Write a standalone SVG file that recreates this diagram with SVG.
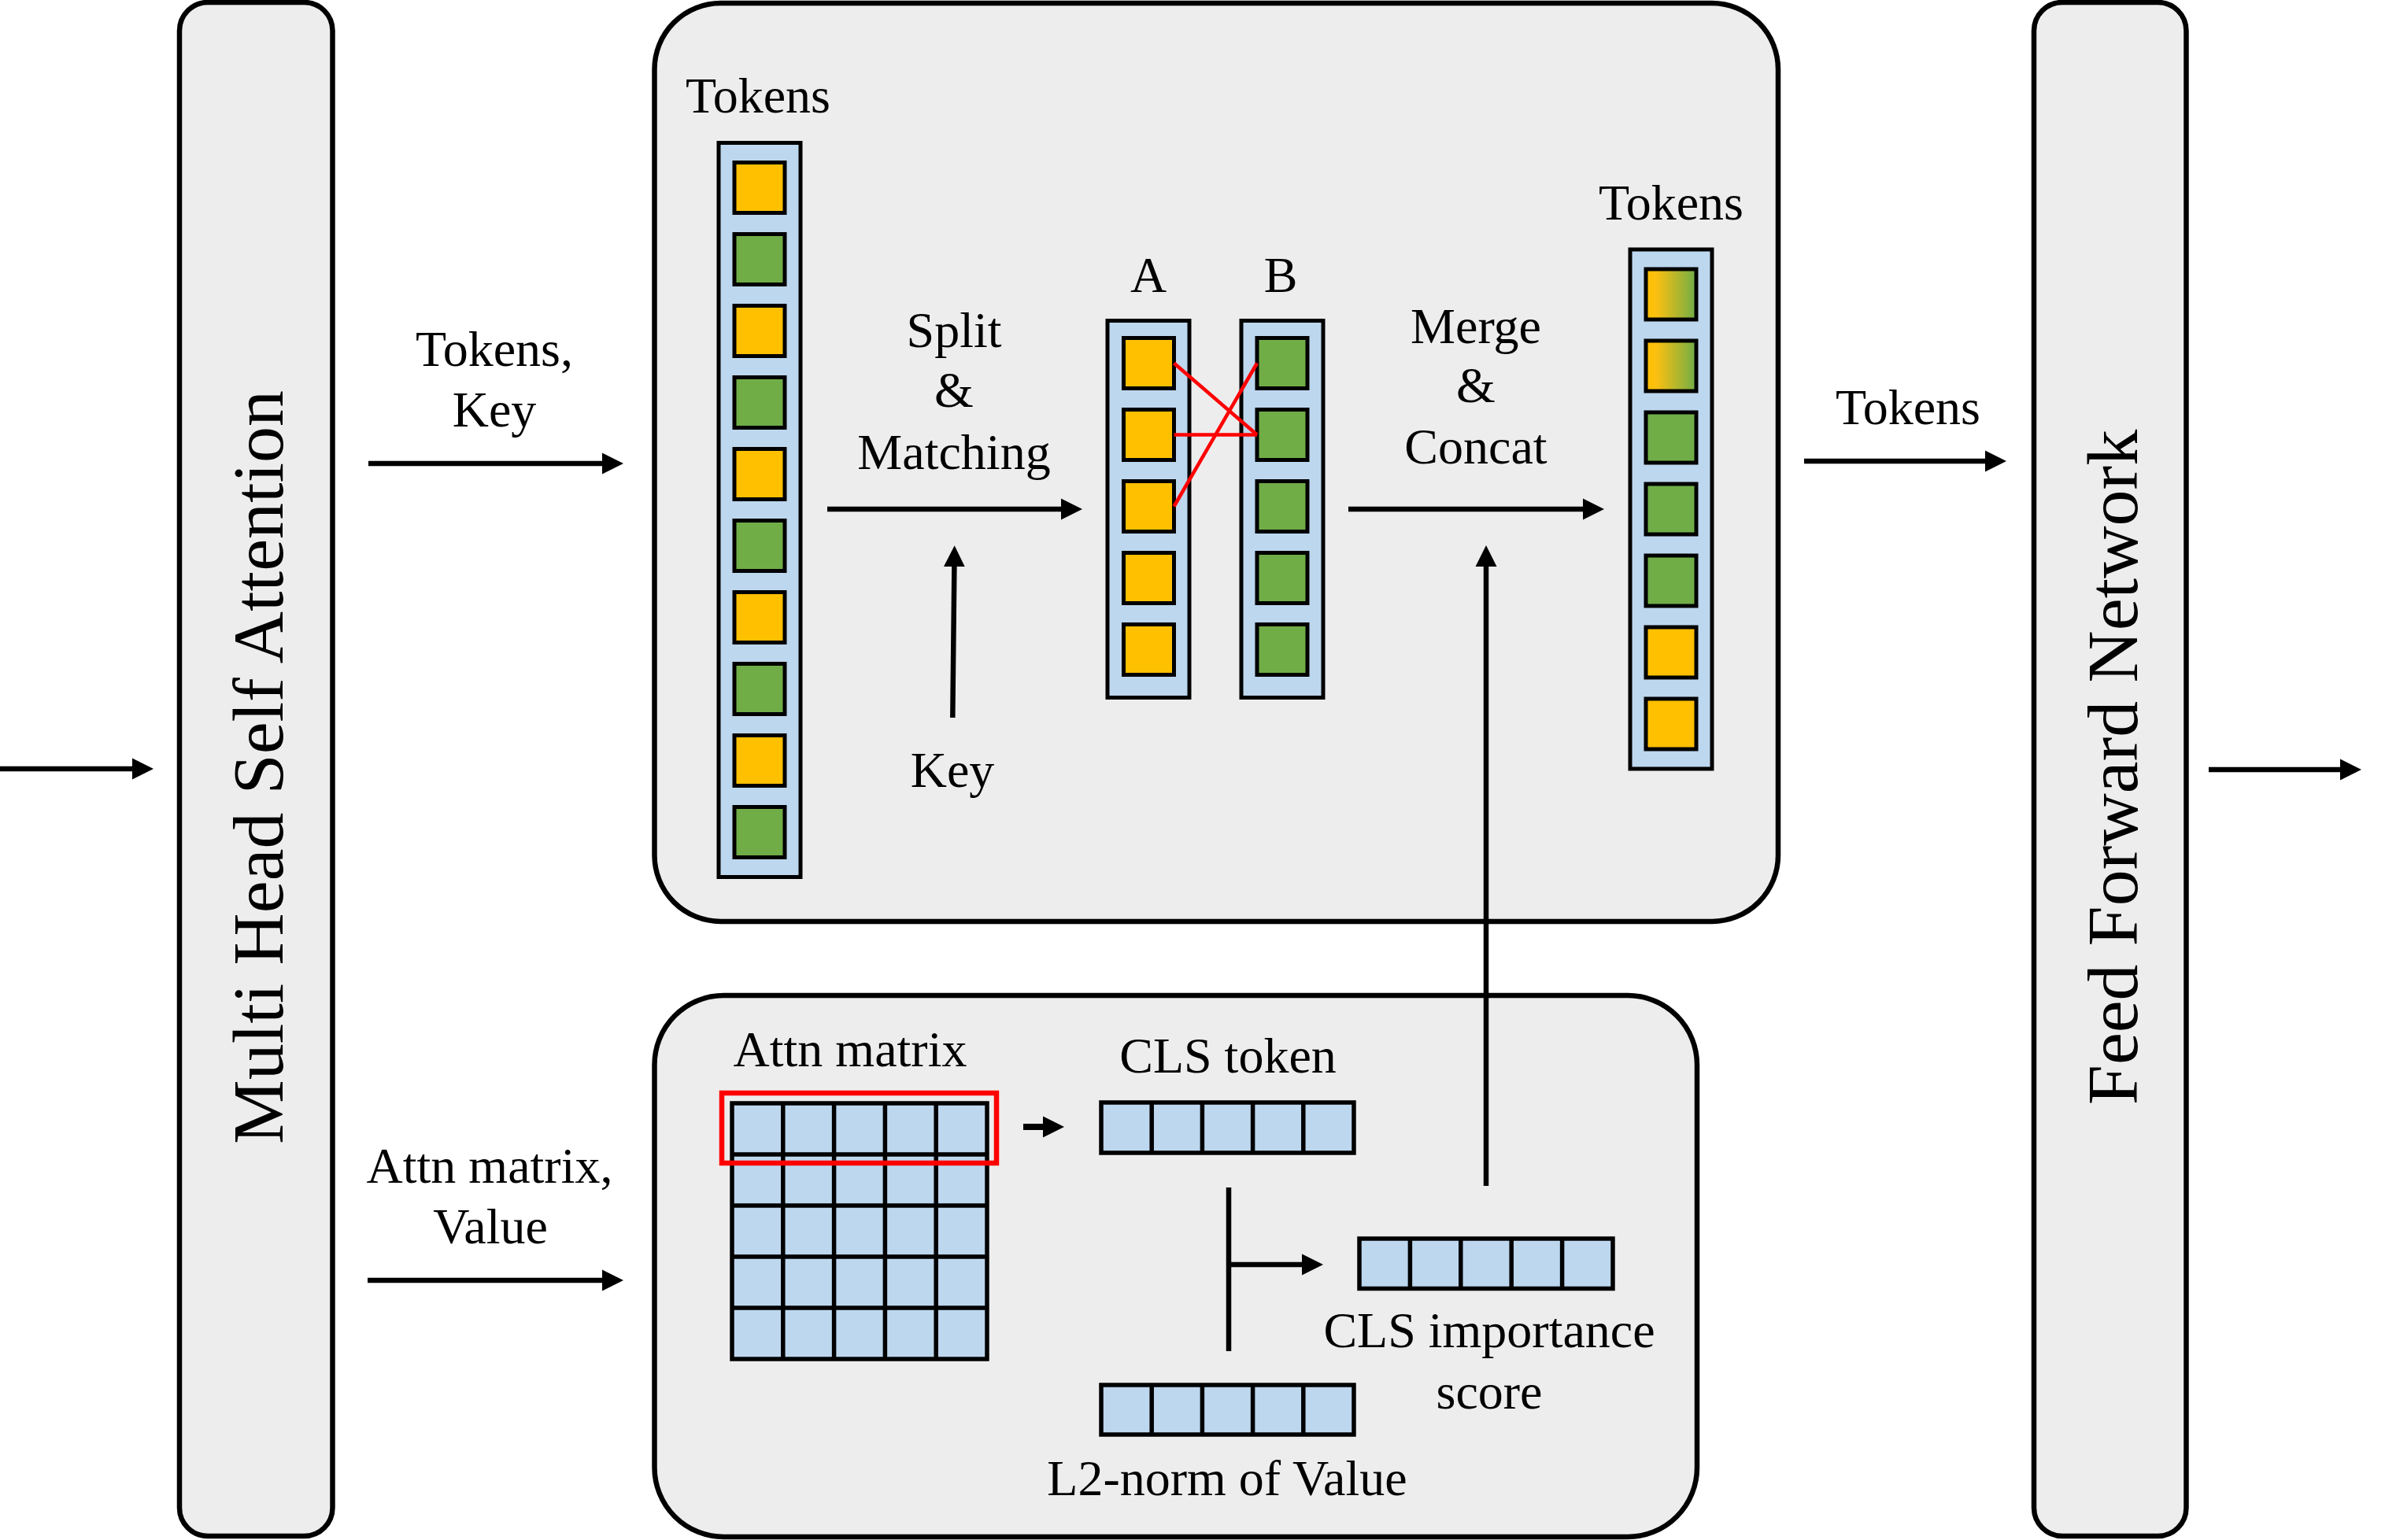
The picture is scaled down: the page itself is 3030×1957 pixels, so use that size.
<svg xmlns="http://www.w3.org/2000/svg" width="3030" height="1957" viewBox="0 0 3030 1957">
<style>
.box{fill:#EDEDED;stroke:#000;stroke-width:6.5}
.col{fill:#BDD7EE;stroke:#000;stroke-width:5}
.o{fill:#FFC000;stroke:#000;stroke-width:5}
.g{fill:#70AD47;stroke:#000;stroke-width:5}
.m{fill:url(#grad);stroke:#000;stroke-width:5}
.bar{fill:#BDD7EE;stroke:#000;stroke-width:5.5}
.div{stroke:#000;stroke-width:5.5;fill:none}
.t{font-family:"Liberation Serif","Times New Roman",serif;font-size:64px;fill:#000;text-anchor:middle}
.big{font-family:"Liberation Serif","Times New Roman",serif;font-size:92px;fill:#000;text-anchor:middle}
.ar{stroke:#000;stroke-width:6.5;fill:none;marker-end:url(#ah)}
.ln{stroke:#000;stroke-width:6.5;fill:none}
.red{stroke:#FF0000;stroke-width:4.5;fill:none}
</style>
<defs>
<marker id="ah" markerUnits="userSpaceOnUse" markerWidth="28" markerHeight="28" refX="1" refY="13.5" orient="auto" viewBox="0 0 28 27"><path d="M0,0 L27,13.5 L0,27 z" fill="#000"/></marker>
<linearGradient id="grad" x1="0" y1="0" x2="1" y2="0">
<stop offset="0" stop-color="#FFC000"/>
<stop offset="0.2" stop-color="#FCC010"/>
<stop offset="1" stop-color="#70AD47"/>
</linearGradient>
</defs>

<g id="mhsa">
<rect class="box" x="228" y="3" width="194.5" height="1949" rx="36" ry="36"/>
<text class="big" transform="translate(359,975) rotate(-90)">Multi Head Self Attention</text>
</g>

<g id="ffn">
<rect class="box" x="2584" y="3" width="193.5" height="1949" rx="36" ry="36"/>
<text class="big" transform="translate(2715,975) rotate(-90)">Feed Forward Network</text>
</g>

<g id="merge-module">
<rect class="box" x="831.5" y="4" width="1427.5" height="1167" rx="84" ry="84"/>
</g>

<g id="input-tokens">
<text class="t" x="963" y="143">Tokens</text>
<rect class="col" x="913" y="181.5" width="104" height="933"/>
<rect class="o" x="933" y="206.5" width="64" height="64"/>
<rect class="g" x="933" y="297.5" width="64" height="64"/>
<rect class="o" x="933" y="388.5" width="64" height="64"/>
<rect class="g" x="933" y="479.5" width="64" height="64"/>
<rect class="o" x="933" y="570.5" width="64" height="64"/>
<rect class="g" x="933" y="661.5" width="64" height="64"/>
<rect class="o" x="933" y="752.5" width="64" height="64"/>
<rect class="g" x="933" y="843.5" width="64" height="64"/>
<rect class="o" x="933" y="934.5" width="64" height="64"/>
<rect class="g" x="933" y="1025.5" width="64" height="64"/>
</g>

<g id="split-label">
<text class="t" x="1212" y="441">Split</text>
<text class="t" x="1212" y="517">&amp;</text>
<text class="t" x="1212" y="596">Matching</text>
</g>

<g id="key-label">
<text class="t" x="1210" y="1000">Key</text>
</g>

<g id="set-a">
<text class="t" x="1459" y="371">A</text>
<rect class="col" x="1407" y="407.5" width="104" height="479"/>
<rect class="o" x="1427.5" y="429.5" width="64" height="64"/>
<rect class="o" x="1427.5" y="520.5" width="64" height="64"/>
<rect class="o" x="1427.5" y="611.5" width="64" height="64"/>
<rect class="o" x="1427.5" y="702.5" width="64" height="64"/>
<rect class="o" x="1427.5" y="793.5" width="64" height="64"/>
</g>

<g id="set-b">
<text class="t" x="1627" y="371">B</text>
<rect class="col" x="1577" y="407.5" width="104" height="479"/>
<rect class="g" x="1597" y="429.5" width="64" height="64"/>
<rect class="g" x="1597" y="520.5" width="64" height="64"/>
<rect class="g" x="1597" y="611.5" width="64" height="64"/>
<rect class="g" x="1597" y="702.5" width="64" height="64"/>
<rect class="g" x="1597" y="793.5" width="64" height="64"/>
</g>

<g id="matching-lines">
<line class="red" x1="1491.5" y1="461.5" x2="1597" y2="552.5"/>
<line class="red" x1="1491.5" y1="552.5" x2="1597" y2="552.5"/>
<line class="red" x1="1491.5" y1="643.5" x2="1597" y2="461.5"/>
</g>

<g id="merge-label">
<text class="t" x="1875" y="436">Merge</text>
<text class="t" x="1875" y="511">&amp;</text>
<text class="t" x="1875" y="589">Concat</text>
</g>

<g id="output-tokens">
<text class="t" x="2123" y="279">Tokens</text>
<rect class="col" x="2071" y="317" width="104" height="660"/>
<rect class="m" x="2091" y="342" width="64" height="64"/>
<rect class="m" x="2091" y="433" width="64" height="64"/>
<rect class="g" x="2091" y="524" width="64" height="64"/>
<rect class="g" x="2091" y="615" width="64" height="64"/>
<rect class="g" x="2091" y="706" width="64" height="64"/>
<rect class="o" x="2091" y="797" width="64" height="64"/>
<rect class="o" x="2091" y="888" width="64" height="64"/>
</g>

<g id="cls-module">
<rect class="box" x="831.5" y="1265" width="1324.5" height="688" rx="88" ry="88"/>
</g>

<g id="attn-matrix">
<text class="t" x="1080" y="1355">Attn matrix</text>
<rect class="bar" x="930" y="1402" width="324" height="325"/>
<path class="div" d="M994.8,1402V1727M1059.6,1402V1727M1124.4,1402V1727M1189.2,1402V1727M930,1467H1254M930,1532H1254M930,1597H1254M930,1662H1254"/>
<rect x="917" y="1389" width="349" height="89" fill="none" stroke="#FF0000" stroke-width="6.5"/>
</g>

<g id="cls-token">
<text class="t" x="1560" y="1363">CLS token</text>
<rect class="bar" x="1399" y="1401" width="321" height="64"/>
<path class="div" d="M1463.2,1401V1465M1527.4,1401V1465M1591.6,1401V1465M1655.8,1401V1465"/>
</g>

<g id="l2-norm">
<rect class="bar" x="1399" y="1760" width="321" height="63"/>
<path class="div" d="M1463.2,1760V1823M1527.4,1760V1823M1591.6,1760V1823M1655.8,1760V1823"/>
<text class="t" x="1559" y="1900">L2-norm of Value</text>
</g>

<g id="cls-importance">
<rect class="bar" x="1727" y="1574" width="322" height="63.5"/>
<path class="div" d="M1791.4,1574V1637.5M1855.8,1574V1637.5M1920.2,1574V1637.5M1984.6,1574V1637.5"/>
<text class="t" x="1892" y="1712">CLS importance</text>
<text class="t" x="1892" y="1790">score</text>
</g>

<g id="edge-labels">
<text class="t" x="628" y="465">Tokens,</text>
<text class="t" x="628" y="542">Key</text>
<text class="t" x="622" y="1503">Attn matrix,</text>
<text class="t" x="623" y="1580">Value</text>
<text class="t" x="2424" y="539">Tokens</text>
</g>

<g id="connectors">
<line class="ar" x1="0" y1="977" x2="169" y2="977"/>
<line class="ar" x1="468" y1="589" x2="766" y2="589"/>
<line class="ar" x1="467" y1="1627" x2="766" y2="1627"/>
<line class="ar" x1="1051" y1="647" x2="1349" y2="647"/>
<line class="ar" x1="1210.3" y1="912" x2="1212.4" y2="719.3"/>
<line class="ar" x1="1713" y1="647" x2="2012" y2="647"/>
<line class="ar" x1="1888" y1="1507" x2="1888" y2="719"/>
<line class="ar" x1="2292" y1="586" x2="2523" y2="586"/>
<line class="ar" x1="2806" y1="978" x2="2974" y2="978"/>
<line class="ar" x1="1300" y1="1432" x2="1326" y2="1432" style="stroke-width:8"/>
<line class="ln" x1="1561" y1="1509" x2="1561" y2="1717"/>
<line class="ar" x1="1561" y1="1607" x2="1655" y2="1607"/>
</g>
</svg>
